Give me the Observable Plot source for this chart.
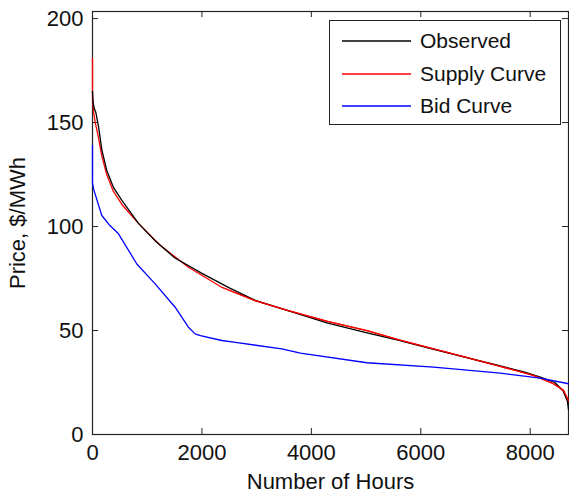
<!DOCTYPE html>
<html>
<head>
<meta charset="utf-8">
<script src="https://cdn.jsdelivr.net/npm/d3@7"></script>
<script src="https://cdn.jsdelivr.net/npm/@observablehq/plot@0.6"></script>
<style>
  html, body { margin: 0; padding: 0; background: #fff; }
  #wrap { position: relative; width: 569px; height: 493px; font-family: "Liberation Sans", Arial, sans-serif; }
  #legend { position: absolute; left: 329px; top: 20px; width: 232px; height: 105px; border: 1px solid #222; background: #fff; box-sizing: border-box; }
  .row { position: absolute; left: 0; height: 24px; display: flex; align-items: center; font-size: 21px; color: #111; white-space: nowrap; }
  .row svg { margin-left: 12px; margin-right: 9px; }
</style>
</head>
<body>
<div id="wrap"></div>
<script>
// Tick values
const xTicks = [0, 2000, 4000, 6000, 8000];
const yTicks = [0, 50, 100, 150, 200];

// Series names and colours
const seriesNames = ["Observed", "Supply Curve", "Bid Curve"];
const seriesColors = ["#000000", "#ff0000", "#0000ff"];

// Observed (black)
const obsX = [0, 10, 30, 60, 110, 170, 260, 380, 540, 840, 1150, 1500, 2000, 2500, 3000, 3600, 4300, 5000, 5600, 6200, 6800, 7400, 7900, 8200, 8450, 8600, 8680, 8700];
const obsY = [165, 160, 157, 155, 148, 137, 127, 119, 112.5, 101.5, 93, 85, 77.5, 70.5, 64.2, 59.3, 53.5, 49, 45.3, 41.2, 37.2, 33.3, 30, 27.5, 25, 21, 16, 12];

// Supply curve (red)
const supX = [0, 0, 20, 50, 100, 170, 260, 380, 540, 840, 1236, 1753, 2362, 2971, 3580, 4311, 5017, 5600, 6235, 6850, 7452, 8060, 8426, 8609, 8700];
const supY = [181, 162, 155, 150, 144, 134, 125, 117, 110.5, 101.5, 91, 80.4, 70.8, 64.4, 59.6, 54.3, 50, 45.5, 41.2, 37, 32.8, 28.4, 24.4, 21.2, 16.3];

// Bid curve (blue)
const bidX = [0, 0, 20, 170, 300, 475, 810, 1145, 1510, 1753, 1875, 1973, 2362, 2580, 3458, 3800, 5017, 6235, 7452, 8183, 8700];
const bidY = [139, 121, 118, 105.3, 101, 96.5, 82, 72.4, 61.2, 51.6, 48.4, 47.6, 45.2, 44.4, 41.2, 39.1, 34.5, 32.4, 29.5, 27.1, 24.4];

const toRows = (xs, ys) => xs.map((x, i) => ({x, y: ys[i]}));
const obs = toRows(obsX, obsY);
const sup = toRows(supX, supY);
const bid = toRows(bidX, bidY);

const W = 569, H = 493, mL = 92, mR = 1, mT = 11, mB = 59;
const innerW = W - mL - mR, innerH = H - mT - mB;
const tickLen = 6;

const chart = Plot.plot({
  width: W, height: H,
  marginLeft: mL, marginRight: mR, marginTop: mT, marginBottom: mB,
  style: {fontFamily: "'Liberation Sans', Arial, sans-serif", fontSize: "22px", color: "#111", background: "#fff"},
  x: {domain: [0, 8700]},
  y: {domain: [0, 203.4]},
  marks: [
    Plot.frame({stroke: "#222", strokeWidth: 1.2}),
    Plot.tickX(xTicks, {x: d => d, stroke: "#222", insetTop: innerH - tickLen}),
    Plot.tickX(xTicks, {x: d => d, stroke: "#222", insetBottom: innerH - tickLen}),
    Plot.tickY(yTicks, {y: d => d, stroke: "#222", insetRight: innerW - tickLen}),
    Plot.tickY(yTicks, {y: d => d, stroke: "#222", insetLeft: innerW - tickLen}),
    Plot.axisX({ticks: xTicks, tickSize: 0, tickPadding: 10, tickFormat: d => String(d), fontSize: 22,
      label: "Number of Hours", labelAnchor: "center", labelArrow: "none", labelOffset: 54}),
    Plot.axisY({ticks: yTicks, tickSize: 0, tickPadding: 9, tickFormat: d => String(d), fontSize: 22,
      label: "Price, $/MWh", labelAnchor: "center", labelArrow: "none", labelOffset: 83}),
    Plot.line(sup, {x: "x", y: "y", stroke: seriesColors[1], strokeWidth: 1.3}),
    Plot.line(obs, {x: "x", y: "y", stroke: seriesColors[0], strokeWidth: 1.3}),
    Plot.line(sup.slice(12), {x: "x", y: "y", stroke: seriesColors[1], strokeWidth: 1.3}),
    Plot.line(bid, {x: "x", y: "y", stroke: seriesColors[2], strokeWidth: 1.3})
  ]
});

const wrap = document.getElementById("wrap");
wrap.appendChild(chart);

// Legend
const legend = document.createElement("div");
legend.id = "legend";
seriesNames.forEach((name, i) => {
  const row = document.createElement("div");
  row.className = "row";
  row.style.top = (8 + i * 32.5) + "px";
  row.innerHTML = `<svg width="69" height="4"><line x1="0" y1="2" x2="69" y2="2" stroke="${seriesColors[i]}" stroke-width="1.3"/></svg><span>${name}</span>`;
  legend.appendChild(row);
});
wrap.appendChild(legend);
</script>
</body>
</html>
